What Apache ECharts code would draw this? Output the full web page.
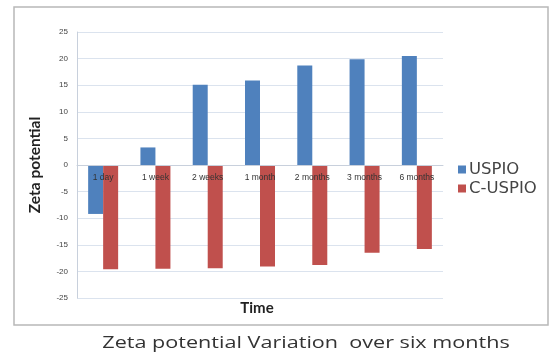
<!DOCTYPE html>
<html>
<head>
<meta charset="utf-8">
<script src="https://cdn.jsdelivr.net/npm/echarts@6/dist/echarts.min.js"></script>
<style>
  html, body { margin: 0; padding: 0; background: #fff; }
  #chart { width: 552px; height: 356px; }
</style>
</head>
<body>
<div id="chart"></div>
<script>
// Time points and zeta potential readings (mV)
const timePoints = ['1 day', '1 week', '2 weeks', '1 month', '2 months', '3 months', '6 months'];
const uspio = [-9.2, 3.3, 15.1, 15.9, 18.7, 19.9, 20.5];
const cUspio = [-19.6, -19.5, -19.4, -19.1, -18.8, -16.5, -15.8];
const yTicks = { min: -25, max: 25, step: 5 };

const W = 552, H = 356;
const grid = { left: 77, right: 109, top: 32, bottom: 58 };
// the category axis sits on the zero line: shift it up from the plot bottom
const plotHeight = H - grid.top - grid.bottom;
const zeroOffset = -plotHeight * (0 - yTicks.min) / (yTicks.max - yTicks.min);

const chart = echarts.init(document.getElementById('chart'), null, { renderer: 'canvas' });

chart.setOption({
  animation: false,
  backgroundColor: '#ffffff',
  color: ['#4f81bd', '#c0504d'],
  graphic: [
    {
      type: 'rect',
      shape: { x: 14, y: 7, width: 534, height: 318 },
      style: { fill: 'none', stroke: '#b8b8b8', lineWidth: 1.5 },
      z: -1
    },
    {
      // x-axis title
      type: 'text',
      x: 257,
      y: 308,
      style: {
        text: 'Time',
        font: 'bold 15px Lato, sans-serif',
        fill: '#222',
        align: 'center',
        verticalAlign: 'middle'
      }
    },
    {
      // caption under the frame
      type: 'text',
      x: 306,
      y: 343,
      scaleX: 1.27,
      originX: 0,
      originY: 0,
      style: {
        text: 'Zeta potential Variation  over six months',
        font: '17px "Open Sans", sans-serif',
        fill: '#333333',
        align: 'center',
        verticalAlign: 'middle'
      }
    }
  ],
  legend: {
    orient: 'vertical',
    left: 453,
    top: 156,
    itemWidth: 8,
    itemHeight: 8,
    itemGap: 2,
    icon: 'rect',
    textStyle: { fontFamily: 'DejaVu Sans', fontSize: 16.5, color: '#444', padding: [0, 0, 0, -2] },
    data: ['USPIO', 'C-USPIO']
  },
  grid: Object.assign({ outerBoundsMode: 'none', containLabel: false }, grid),
  xAxis: {
    type: 'category',
    data: timePoints,
    offset: zeroOffset,
    axisLine: { onZero: false, lineStyle: { color: '#c8d0dc' } },
    axisTick: { show: false },
    axisLabel: {
      fontFamily: 'Liberation Sans', fontSize: 8.5, color: '#333', margin: 8
    },
    z: 10
  },
  yAxis: {
    type: 'value',
    min: yTicks.min,
    max: yTicks.max,
    interval: yTicks.step,
    name: 'Zeta potential',
    nameLocation: 'middle',
    nameGap: 34,
    nameTextStyle: { fontFamily: 'Lato', fontWeight: 'bold', fontSize: 15.5, color: '#222' },
    axisLine: { show: true, lineStyle: { color: '#c8d0dc' } },
    axisTick: { show: false },
    axisLabel: { fontFamily: 'Liberation Sans', fontSize: 8, color: '#444', margin: 9 },
    splitLine: { lineStyle: { color: '#dbe3ee' } }
  },
  series: [
    {
      name: 'USPIO',
      type: 'bar',
      data: uspio,
      barWidth: 15,
      barGap: '0%'
    },
    {
      name: 'C-USPIO',
      type: 'bar',
      data: cUspio,
      barWidth: 15,
      barGap: '0%'
    }
  ]
});
</script>
</body>
</html>
